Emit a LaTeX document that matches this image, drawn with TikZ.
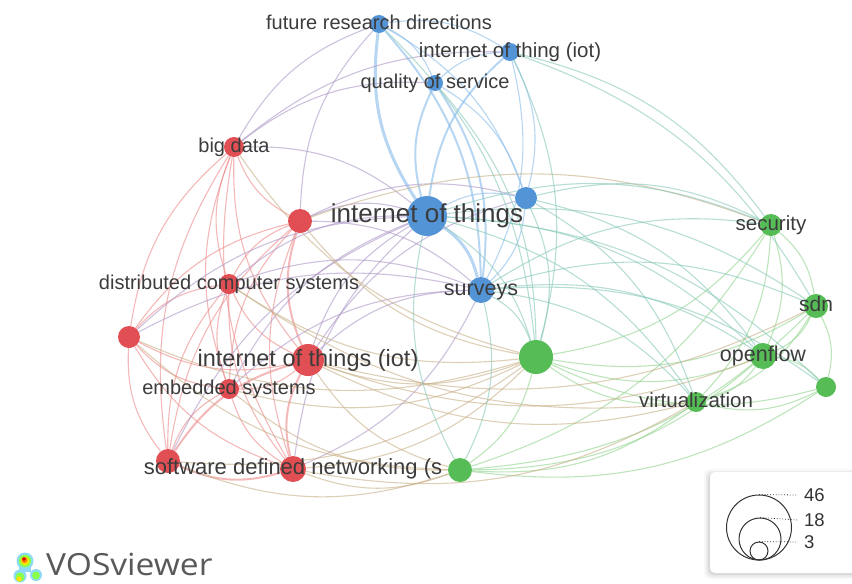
\documentclass[tikz,border=0pt]{standalone}
\usepackage{fontspec}
\setmainfont{Liberation Sans}
\newfontfamily\logofont{Open Sans}
\usetikzlibrary{calc}
\definecolor{nred}{HTML}{E0454A}
\definecolor{nblue}{HTML}{4A8FD5}
\definecolor{ngreen}{HTML}{4DBA4D}
\definecolor{erd}{HTML}{EE8A8A}
\definecolor{ebl}{HTML}{86BBE8}
\definecolor{egr}{HTML}{92D48E}
\definecolor{erb}{HTML}{AE98C8}
\definecolor{erg}{HTML}{C8B087}
\definecolor{ebg}{HTML}{88C9BA}
\definecolor{labtext}{HTML}{3C3C3C}
\definecolor{legendline}{HTML}{333333}
\pgfdeclarelayer{bg}
\pgfdeclarelayer{fg}
\pgfsetlayers{bg,main,fg}
\begin{document}
\begin{tikzpicture}[x=1pt,y=-1pt,
  item/.style={circle, inner sep=0pt, minimum size=#1, fill opacity=0.95},
  ritem/.style={item=#1, fill=nred},
  bitem/.style={item=#1, fill=nblue},
  gitem/.style={item=#1, fill=ngreen},
  lab/.style={text=labtext, inner sep=0pt, anchor=base,
    font=\fontsize{#1}{#1}\selectfont, yshift={-0.26*#1}},
  link/.style={line width=1.1pt, opacity=0.6},
  err/.style={link, draw=erd},
  ebb/.style={link, draw=ebl},
  egg/.style={link, draw=egr},
  erb/.style={link, draw=erb},
  erg/.style={link, draw=erg},
  ebg/.style={link, draw=ebg},
  errT/.style={err, line width=2pt},
  ebbM/.style={ebb, line width=2pt},
  ebbT/.style={ebb, line width=3pt},
  legendcircle/.style={circle, draw=legendline, line width=1pt, inner sep=0pt, minimum size=#1},
  legendtick/.style={draw=legendline, dotted, line width=0.8pt},
  legendlab/.style={text=legendline, anchor=west, inner sep=0pt, font=\fontsize{18.5}{18.5}\selectfont},
]
\useasboundingbox (0,0) rectangle (852,584);

% ---- items: blue cluster
\node[bitem=18] (frd)  at (379,24) {};
\node[bitem=18] (iott) at (510,52) {};
\node[bitem=16] (qos)  at (435,83) {};
\node[bitem=40] (iot)  at (427,216) {};
\node[bitem=22] (b5)   at (526,198) {};
\node[bitem=26] (sur)  at (481,290) {};
% ---- red cluster
\node[ritem=20] (bd)     at (234,147) {};
\node[ritem=24] (r2)     at (300,221) {};
\node[ritem=20] (dcs)    at (229,284) {};
\node[ritem=22] (r4)     at (129,337) {};
\node[ritem=32] (iotiot) at (308,360) {};
\node[ritem=20] (emb)    at (229,389) {};
\node[ritem=24] (r7)     at (168,461) {};
\node[ritem=26] (sdns)   at (293,469) {};
% ---- green cluster
\node[gitem=34] (g1)   at (536,357) {};
\node[gitem=24] (g2)   at (460,470) {};
\node[gitem=22] (sec)  at (771,225) {};
\node[gitem=24] (sdn)  at (816,306) {};
\node[gitem=26] (of)   at (763,356) {};
\node[gitem=20] (g6)   at (826,387) {};
\node[gitem=20] (virt) at (696,402) {};

% ---- links, curved away from the middle of the map
\begin{pgfonlayer}{bg}
\fill[white] (0,0) rectangle (852,584);
\foreach \a/\b/\s in {
  frd/iot/ebbT, frd/qos/ebb, frd/iott/ebb, frd/sur/ebbM, frd/b5/ebb,
  qos/iot/ebbM, qos/sur/ebbM, qos/iott/ebb, qos/b5/ebb, iott/iot/ebbM,
  iott/sur/ebb, iott/b5/ebb, iot/b5/ebb, iot/sur/ebbT, b5/sur/ebb,
  bd/r2/err, bd/dcs/err, bd/r4/err, bd/iotiot/err, bd/emb/err, bd/r7/err, bd/sdns/err,
  r2/dcs/err, r2/r4/err, r2/iotiot/errT, r2/emb/err, r2/r7/err, r2/sdns/err,
  dcs/r4/err, dcs/iotiot/err, dcs/emb/err, dcs/r7/err, dcs/sdns/err,
  r4/iotiot/err, r4/emb/err, r4/r7/err, r4/sdns/err,
  iotiot/emb/err, iotiot/r7/errT, iotiot/sdns/errT, emb/r7/err, emb/sdns/err, r7/sdns/errT,
  g1/g2/egg, g1/sec/egg, g1/sdn/egg, g1/of/egg, g1/g6/egg, g1/virt/egg,
  g2/sec/egg, g2/sdn/egg, g2/of/egg, g2/virt/egg, g2/g6/egg,
  sec/sdn/egg, sec/of/egg, sec/virt/egg, sdn/of/egg, sdn/g6/egg, sdn/virt/egg,
  of/g6/egg, of/virt/egg, virt/g6/egg,
  bd/iot/erb, bd/frd/erb, bd/qos/erb, bd/iott/erb, r2/iot/erb, r2/frd/erb,
  r2/sur/erb, r2/b5/erb, dcs/iot/erb, dcs/sur/erb, r4/iot/erb, iotiot/iot/erb,
  iotiot/sur/erb, iotiot/b5/erb, emb/iot/erb, emb/sur/erb, r7/iot/erb,
  sdns/iot/erb, sdns/sur/erb, r4/sur/erb,
  iotiot/g1/erg, r2/g1/erg, sdns/g1/erg, sdns/g2/erg, r7/g2/erg, emb/g1/erg,
  dcs/g1/erg, r4/g1/erg, iotiot/g2/erg, emb/g2/erg, r7/g1/erg, iotiot/virt/erg,
  sdns/virt/erg, dcs/virt/erg, iotiot/of/erg, r4/g2/erg, r2/sec/erg,
  iotiot/sdn/erg, bd/g1/erg,
  iot/g1/ebg, iot/g2/ebg, iot/sec/ebg, iot/of/ebg, iot/sdn/ebg, iot/virt/ebg,
  sur/g1/ebg, sur/g2/ebg, sur/sec/ebg, sur/of/ebg, sur/virt/ebg, sur/sdn/ebg,
  b5/g1/ebg, b5/sec/ebg, b5/of/ebg, iott/sec/ebg, iott/sdn/ebg, qos/g1/ebg,
  iott/g1/ebg, b5/virt/ebg, iot/g6/ebg, frd/g1/ebg, sur/g6/ebg}{
  \draw[\s] let \p1=(\a), \p2=(\b),
    \n1={-20*sign(((\y1)-(\y2))/100*(4.7-((\x1)+(\x2))/200)+((\x2)-(\x1))/100*(-3-((\y1)+(\y2))/200))}
    in (\a) to[bend left=\n1] (\b);
}
\end{pgfonlayer}

% ---- labels
\begin{pgfonlayer}{fg}
\node[lab=20]   (frd-l)    at (frd)    {future research directions};
\node[lab=20.5] (iott-l)   at (iott)   {internet of thing (iot)};
\node[lab=20]   (qos-l)    at (qos)    {quality of service};
\node[lab=26]   (iot-l)    at (iot)    {internet of things};
\node[lab=21.5] (sur-l)    at (sur)    {surveys};
\node[lab=20]   (bd-l)     at (bd)     {big data};
\node[lab=20]   (dcs-l)    at (dcs)    {distributed computer systems};
\node[lab=23.5] (iotiot-l) at (iotiot) {internet of things (iot)};
\node[lab=20]   (emb-l)    at (emb)    {embedded systems};
\node[lab=22]   (sdns-l)   at (sdns)   {software defined networking (s};
\node[lab=20.5] (sec-l)    at (sec)    {security};
\node[lab=21]   (sdn-l)    at (sdn)    {sdn};
\node[lab=21.5] (of-l)     at (of)     {openflow};
\node[lab=20.5] (virt-l)   at (virt)   {virtualization};
\end{pgfonlayer}

% ---- size legend
\foreach \d/\o in {6/0.03,4/0.05,2/0.07}{
  \fill[black, opacity=\o, rounded corners=6pt]
    (710-\d,472-\d+3) rectangle (880,573+\d);
}
\fill[white, rounded corners=5pt] (710,472) rectangle (880,573);
\node[legendcircle=65] (c46) at (759,527.5) {};
\node[legendcircle=42] (c18) at (760,539) {};
\node[legendcircle=18] (c3)  at (759,551) {};
\node[legendlab] (l46) at (804,495) {46};
\node[legendlab] (l18) at (804,520) {18};
\node[legendlab] (l3)  at (804,542) {3};
\draw[legendtick] (c46.north) -- (l46.west -| 798,0);
\draw[legendtick] (c18.north) -- (l18.west -| 798,0);
\draw[legendtick] (c3.north)  -- (l3.west -| 798,0);

% ---- VOSviewer mark
\fill[cyan!45!white] (25,561) circle (8.5) (20,576) circle (6.5) (36,575) circle (6);
\fill[cyan!45!white] (19,566) rectangle (31,572);
\fill[green!55!lime!70!white] (25,561) circle (6.3) (20,577) circle (4.6) (36,575.5) circle (4);
\fill[yellow!85!orange] (25,561) circle (4.3) (19,579) circle (2.6);
\fill[orange] (24.5,560) circle (3);
\fill[red!80!black] (24,559) circle (1.8);
\node[text=black!65, anchor=base west, inner sep=0pt, transform shape, xscale=1.1,
  font=\logofont\fontsize{30.5}{30.5}\selectfont] (vos) at (46,575) {VOSviewer};
\end{tikzpicture}
\end{document}
